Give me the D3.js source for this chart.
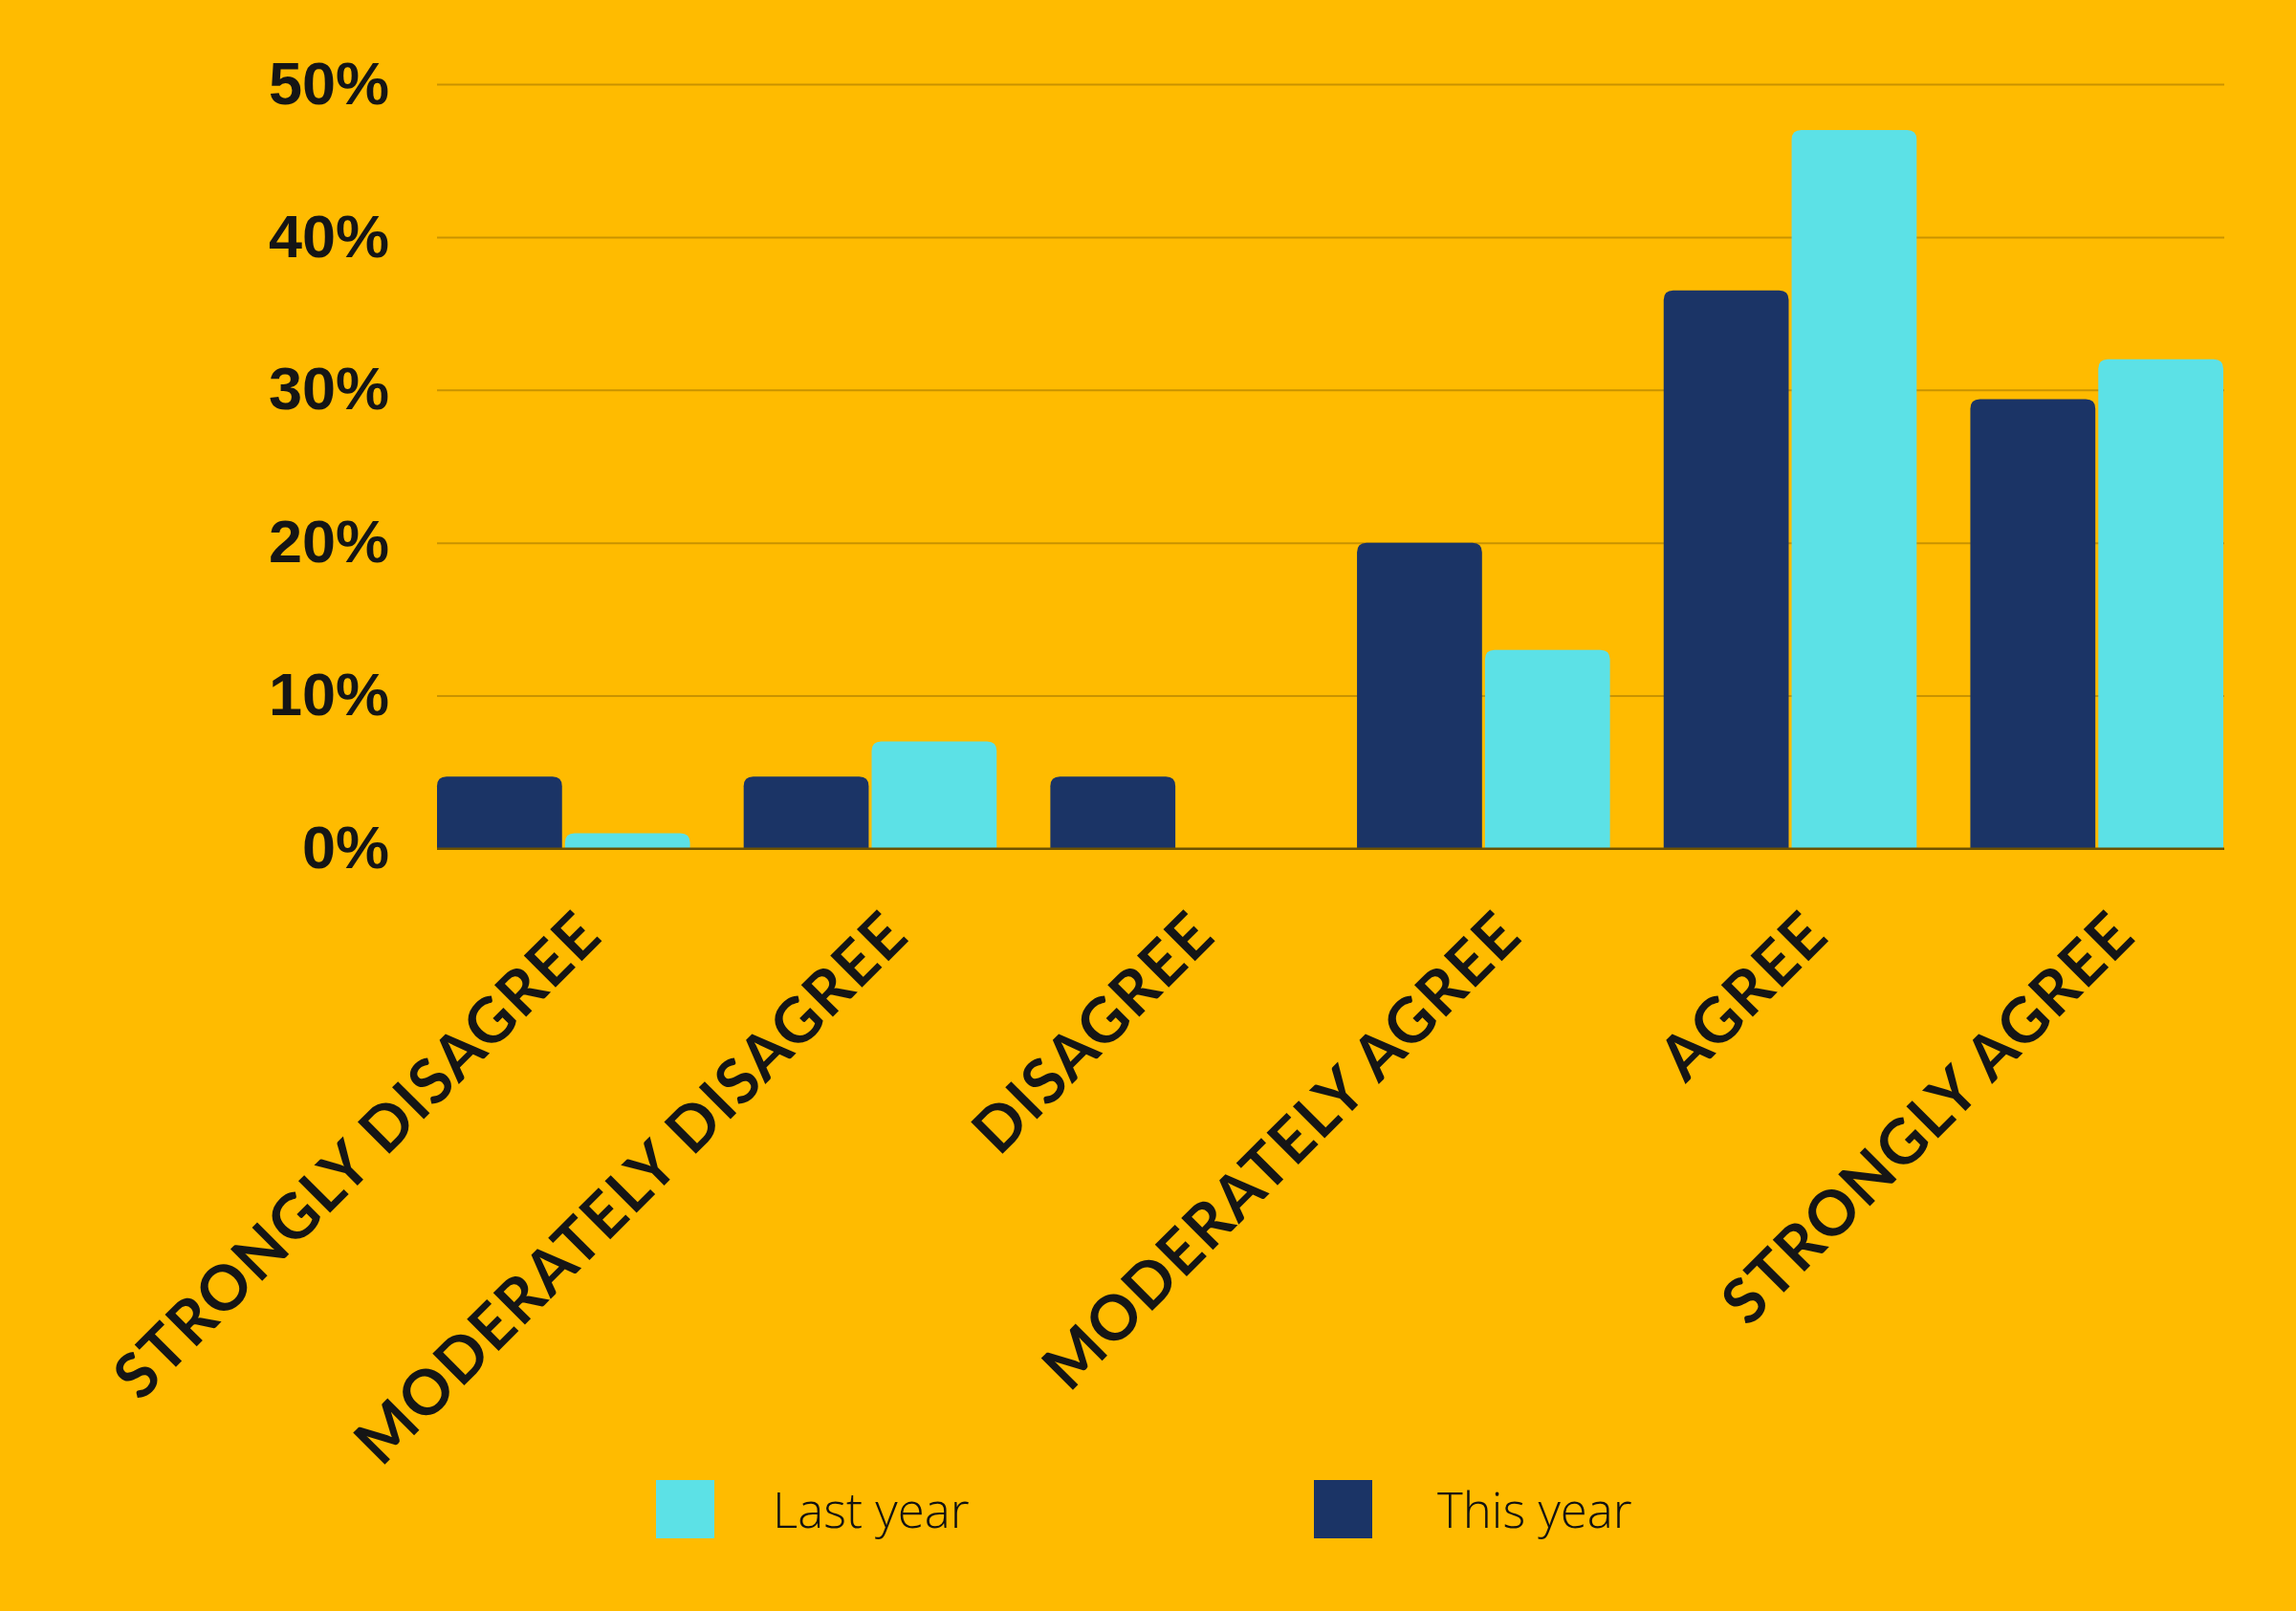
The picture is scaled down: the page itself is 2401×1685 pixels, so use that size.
<!DOCTYPE html>
<html>
<head>
<meta charset="utf-8">
<script src="https://cdn.jsdelivr.net/npm/d3@7"></script>
<style>
  html, body { margin: 0; padding: 0; background: #FFBB00; }
  svg { display: block; }
</style>
</head>
<body>
<svg id="chart" width="2401" height="1685"></svg>
<script>
// Survey answers, this year vs last year (percent of respondents)
const categories = ["STRONGLY DISAGREE", "MODERATELY DISAGREE", "DISAGREE", "MODERATELY AGREE", "AGREE", "STRONGLY AGREE"];
const seriesNames = ["This year", "Last year"];
const thisYear = [4.7, 4.7, 4.7, 20, 36.5, 29.4];
const lastYear = [1, 7, 0, 13, 47, 32];
const yTicks = [0, 10, 20, 30, 40, 50];
const legendOrder = ["Last year", "This year"];

const colors = { "This year": "#1B3466", "Last year": "#5CE1E6" };

const svg = d3.select("#chart");
const W = 2401, H = 1685;
svg.append("rect").attr("width", W).attr("height", H).attr("fill", "#FFBB00");

const plotLeft = 457, plotRight = 2325, plotTop = 88, plotBottom = 887.5;

const x0 = d3.scaleBand().domain(categories).range([plotLeft, plotRight]).paddingInner(0.175).paddingOuter(0);
const x1 = d3.scaleBand().domain(seriesNames).range([0, x0.bandwidth()]).paddingInner(0.023);
const y = d3.scaleLinear().domain([0, 50]).range([plotBottom, plotTop]);

// y axis with full-width gridlines
const yAxis = svg.append("g")
  .attr("transform", `translate(${plotLeft},0)`)
  .call(d3.axisLeft(y).tickValues(yTicks).tickFormat(d => d + "%")
    .tickSize(-(plotRight - plotLeft + 1)).tickPadding(50));
yAxis.select(".domain").remove();
yAxis.selectAll(".tick line")
  .attr("stroke", d => d === 0 ? "#6E5300" : "#C99300")
  .attr("stroke-width", 2);
yAxis.selectAll(".tick text")
  .attr("fill", "#151515")
  .attr("dy", "0.32em")
  .style("font-family", "'Liberation Sans', Arial, sans-serif")
  .style("font-weight", "bold")
  .style("font-size", "63px");

// grouped bars with rounded top corners
function topRounded(x, yTop, w, h, r) {
  r = Math.min(r, h, w / 2);
  return `M${x},${yTop + h}V${yTop + r}Q${x},${yTop} ${x + r},${yTop}` +
         `H${x + w - r}Q${x + w},${yTop} ${x + w},${yTop + r}V${yTop + h}Z`;
}

const rows = categories.map((c, i) => ({
  category: c,
  values: [
    { key: "This year", value: thisYear[i] },
    { key: "Last year", value: lastYear[i] }
  ]
}));

const groups = svg.append("g").selectAll("g").data(rows).join("g")
  .attr("transform", d => `translate(${x0(d.category)},0)`);

groups.selectAll("path").data(d => d.values.filter(v => v.value > 0)).join("path")
  .attr("fill", d => colors[d.key])
  .attr("d", d => topRounded(x1(d.key), y(d.value), x1.bandwidth(), plotBottom - y(d.value), 10));

// baseline drawn over bar bottoms
svg.append("line")
  .attr("x1", plotLeft).attr("x2", plotRight + 1)
  .attr("y1", plotBottom).attr("y2", plotBottom)
  .attr("stroke", "#6E5300").attr("stroke-width", 2);

// x axis: rotated category labels
const xAxis = svg.append("g")
  .attr("transform", `translate(0,${plotBottom})`)
  .call(d3.axisBottom(x0).tickSize(0));
xAxis.select(".domain").remove();
xAxis.selectAll(".tick text")
  .attr("y", 0).attr("dy", 0)
  .attr("text-anchor", "end")
  .attr("transform", "translate(43,94) rotate(-45)")
  .attr("fill", "#151515")
  .style("font-family", "Lato, 'Open Sans', sans-serif")
  .style("font-weight", "bold")
  .style("font-size", "65px")
  .style("letter-spacing", "1.6px");

// legend
const legend = svg.append("g");
const legendX = d3.scalePoint().domain(legendOrder).range([686, 1374]);
const item = legend.selectAll("g").data(legendOrder).join("g")
  .attr("transform", d => `translate(${legendX(d)},1548)`);
item.append("rect")
  .attr("width", 61).attr("height", 61)
  .attr("fill", d => colors[d]);
item.append("text")
  .attr("x", d => d === "Last year" ? 122 : 129)
  .attr("y", 49.5)
  .attr("fill", "#111")
  .style("font-family", "'Open Sans', 'Noto Sans', sans-serif")
  .style("font-weight", 300)
  .style("font-size", "51px")
  .text(d => d);
</script>
</body>
</html>
